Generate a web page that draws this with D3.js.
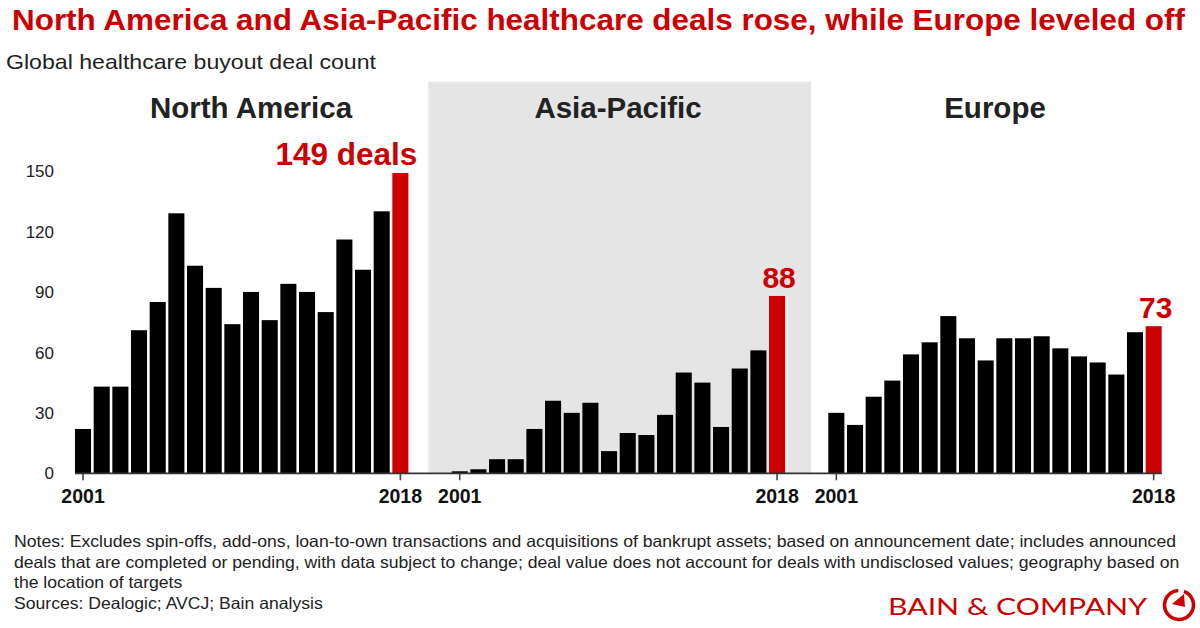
<!DOCTYPE html>
<html>
<head>
<meta charset="utf-8">
<script src="https://cdn.jsdelivr.net/npm/d3@7"></script>
<style>
  html, body { margin: 0; padding: 0; background: #fff; }
  svg { display: block; font-family: "Liberation Sans", Arial, sans-serif; }
</style>
</head>
<body>
<svg id="chart" width="1200" height="628"></svg>
<script>
// ---- Data ----
const years = ["2001","2002","2003","2004","2005","2006","2007","2008","2009","2010","2011","2012","2013","2014","2015","2016","2017","2018"];
const northAmerica = [22, 43, 43, 71, 85, 129, 103, 92, 74, 90, 76, 94, 90, 80, 116, 101, 130, 149];
const asiaPacific  = [1, 2, 7, 7, 22, 36, 30, 35, 11, 20, 19, 29, 50, 45, 23, 52, 61, 88];
const europe       = [30, 24, 38, 46, 59, 65, 78, 67, 56, 67, 67, 68, 62, 58, 55, 49, 70, 73];
const regionNames  = ["North America", "Asia-Pacific", "Europe"];
const calloutLabels = ["149 deals", "88", "73"];
const yTicks = [0, 30, 60, 90, 120, 150];
const labeledYears = ["2001", "2018"];

const title = "North America and Asia-Pacific healthcare deals rose, while Europe leveled off";
const subtitle = "Global healthcare buyout deal count";
const notes = [
  "Notes: Excludes spin-offs, add-ons, loan-to-own transactions and acquisitions of bankrupt assets; based on announcement date; includes announced",
  "deals that are completed or pending, with data subject to change; deal value does not account for deals with undisclosed values; geography based on",
  "the location of targets",
  "Sources: Dealogic; AVCJ; Bain analysis"
];

// ---- Layout ----
const RED = "#cc0000";
const svg = d3.select("#chart");

const y = d3.scaleLinear().domain([0, 150]).range([473.3, 171]);

const panels = [
  { name: regionNames[0], values: northAmerica, range: [73.7, 409.7], titleX: 251, callout: calloutLabels[0], anchor: "end" },
  { name: regionNames[1], values: asiaPacific,  range: [450.4, 786.4], titleX: 618, callout: calloutLabels[1], anchor: "middle" },
  { name: regionNames[2], values: europe,       range: [827, 1163],   titleX: 995, callout: calloutLabels[2], anchor: "middle" }
];

// Gray background for Asia-Pacific
svg.append("rect")
  .attr("x", 428.3).attr("y", 81.7)
  .attr("width", 811 - 428.3).attr("height", y(0) - 81.7)
  .attr("fill", "#e5e5e5");

// Title & subtitle
svg.append("text").attr("x", 12).attr("y", 29.5)
  .attr("fill", RED).attr("font-weight", "bold").attr("font-size", 29.5)
  .attr("textLength", 1173).attr("lengthAdjust", "spacingAndGlyphs")
  .text(title);
svg.append("text").attr("x", 6).attr("y", 68.5)
  .attr("fill", "#222").attr("font-size", 21)
  .attr("textLength", 370).attr("lengthAdjust", "spacingAndGlyphs")
  .text(subtitle);

// Y axis labels (no line)
svg.append("g").selectAll("text").data(yTicks).join("text")
  .attr("x", 54).attr("y", d => y(d)).attr("dy", "0.36em")
  .attr("text-anchor", "end").attr("font-size", 17).attr("fill", "#222")
  .text(d => d);

// Panels
panels.forEach(p => {
  const x = d3.scaleBand().domain(years).range(p.range).paddingInner(0.14).paddingOuter(0.07);
  const g = svg.append("g");

  g.append("text").attr("x", p.titleX).attr("y", 118.3)
    .attr("text-anchor", "middle").attr("font-weight", "bold").attr("font-size", 29.5)
    .attr("fill", "#222").text(p.name);

  g.selectAll("rect.bar").data(years).join("rect")
    .attr("class", "bar")
    .attr("x", d => x(d))
    .attr("width", x.bandwidth())
    .attr("y", (d, i) => y(p.values[i]))
    .attr("height", (d, i) => y(0) - y(p.values[i]))
    .attr("fill", (d, i) => i === years.length - 1 ? RED : "#000");

  // x axis ticks and labels
  const axis = d3.axisBottom(x).tickValues(labeledYears).tickSize(7).tickSizeOuter(0);
  const ag = g.append("g").attr("transform", `translate(0,${y(0)})`).call(axis);
  ag.select(".domain").remove();
  ag.selectAll(".tick line").attr("stroke", "#444").attr("stroke-width", 1.6);
  ag.selectAll(".tick text").attr("font-size", 19.5).attr("font-weight", "bold")
    .attr("fill", "#111").attr("font-family", "Liberation Sans, Arial, sans-serif")
    .attr("dy", "0").attr("y", 30);

  // callout
  const last = years[years.length - 1];
  const lv = p.values[p.values.length - 1];
  const cx = p.anchor === "end" ? x(last) + x.bandwidth() + 9 : x(last) + x.bandwidth() / 2 + 2;
  g.append("text").attr("x", cx).attr("y", y(lv) - 8)
    .attr("text-anchor", p.anchor).attr("font-weight", "bold")
    .attr("font-size", p.anchor === "end" ? 31.5 : 30).attr("fill", RED)
    .text(p.callout);
});

// Baseline across panels
svg.append("line")
  .attr("x1", 75).attr("x2", 1161.7)
  .attr("y1", y(0)).attr("y2", y(0))
  .attr("stroke", "#333").attr("stroke-width", 1.8);

// Notes
const noteText = svg.append("g").selectAll("text").data(notes).join("text")
  .attr("x", 14).attr("y", (d, i) => 547 + i * 20.7)
  .attr("font-size", 16.5).attr("fill", "#222")
  .text(d => d);
const nodes = noteText.nodes();
const ratio = 1162 / nodes[0].getComputedTextLength();
nodes.forEach(n => {
  const L = n.getComputedTextLength() * ratio;
  d3.select(n).attr("textLength", L).attr("lengthAdjust", "spacingAndGlyphs");
});

// Logo
svg.append("text").attr("x", 888).attr("y", 614.5)
  .attr("font-family", "Lato, 'Noto Sans', sans-serif").attr("font-size", 24)
  .attr("fill", RED).attr("textLength", 259).attr("lengthAdjust", "spacingAndGlyphs")
  .text("BAIN & COMPANY");
const lc = [1179, 605], lr = 14.5;
const arc = d3.arc().innerRadius(lr - 1.8).outerRadius(lr + 1.8)
  .startAngle(0.35).endAngle(2 * Math.PI - 0.05);
svg.append("path").attr("transform", `translate(${lc[0]},${lc[1]})`)
  .attr("d", arc()).attr("fill", RED);
svg.append("path")
  .attr("d", `M${lc[0]+5},${lc[1]-11} L${lc[0]+6},${lc[1]+2} L${lc[0]-7},${lc[1]-1} Z`)
  .attr("fill", RED);
</script>
</body>
</html>
